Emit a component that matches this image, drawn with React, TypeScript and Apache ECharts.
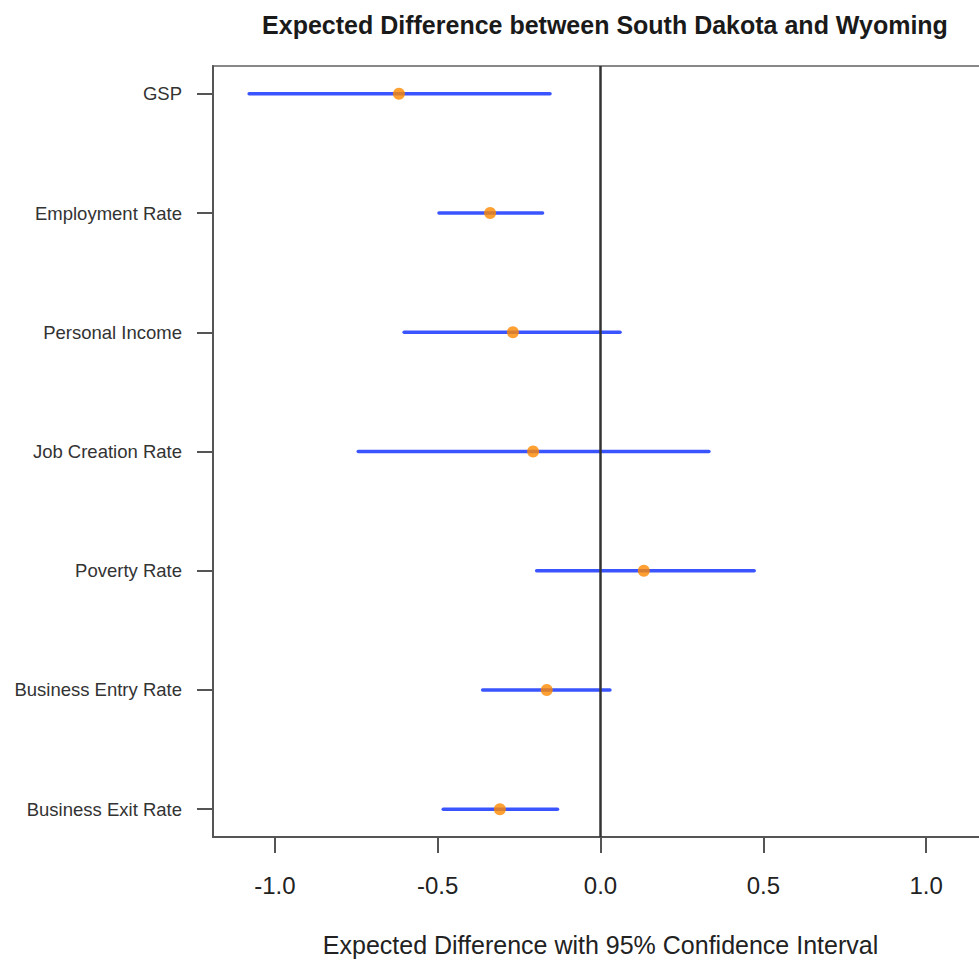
import React, { useEffect, useRef } from "react";
import * as echarts from "echarts";

const categories = [
  "GSP",
  "Employment Rate",
  "Personal Income",
  "Job Creation Rate",
  "Poverty Rate",
  "Business Entry Rate",
  "Business Exit Rate",
];
const estimates = [-0.619, -0.339, -0.269, -0.207, 0.133, -0.165, -0.309];
const lowerCI = [-1.079, -0.496, -0.603, -0.744, -0.196, -0.362, -0.483];
const upperCI = [-0.155, -0.178, 0.060, 0.333, 0.472, 0.029, -0.132];
const xTicks = [-1.0, -0.5, 0.0, 0.5, 1.0];
const yPositions = [1, 2, 3, 4, 5, 6, 7];

const FONT = "'Liberation Sans', Arial, Helvetica, sans-serif";

export default function App() {
  const ref = useRef<HTMLDivElement>(null);
  useEffect(() => {
    if (!ref.current) return;
    const chart = echarts.init(ref.current, undefined, { renderer: "svg" });
    const ciData = categories.map((_, i) => [lowerCI[i], upperCI[i], yPositions[i]]);
    const ptData = categories.map((_, i) => [estimates[i], yPositions[i]]);
    chart.setOption({
      animation: false,
      backgroundColor: "#ffffff",
      title: {
        text: "Expected Difference between South Dakota and Wyoming",
        left: 600,
        textAlign: "center",
        top: 7,
        textStyle: { fontFamily: FONT, fontSize: 25, fontWeight: "bold", color: "#1a1a1a" },
      },
      grid: {
        left: 213,
        top: 66,
        width: 775,
        height: 771,
        show: true,
        borderColor: "#888",
        borderWidth: 2,
        backgroundColor: "transparent",
        containLabel: false,
        outerBoundsMode: "none",
      },
      xAxis: {
        type: "value",
        min: -1.19,
        max: 1.19,
        splitLine: { show: false },
        axisLine: { show: true, onZero: false, lineStyle: { color: "#555", width: 2 } },
        axisTick: {
          show: true,
          length: 16,
          customValues: xTicks,
          lineStyle: { color: "#555", width: 2 },
        },
        axisLabel: {
          customValues: xTicks,
          margin: 36,
          fontFamily: FONT,
          fontSize: 24,
          color: "#222",
          formatter: (v: number) => v.toFixed(1),
        },
        name: "Expected Difference with 95% Confidence Interval",
        nameLocation: "middle",
        nameGap: 95,
        nameTextStyle: { fontFamily: FONT, fontSize: 25, color: "#222" },
      },
      yAxis: {
        type: "value",
        inverse: true,
        min: 0.767,
        max: 7.233,
        splitLine: { show: false },
        axisLine: { show: true, onZero: false, lineStyle: { color: "#555", width: 2 } },
        axisTick: {
          show: true,
          length: 16,
          customValues: yPositions,
          lineStyle: { color: "#555", width: 2 },
        },
        axisLabel: {
          customValues: yPositions,
          margin: 31,
          fontFamily: FONT,
          fontSize: 18.5,
          color: "#333",
          formatter: (v: number) => categories[Math.round(v) - 1] ?? "",
        },
      },
      series: [
        {
          type: "custom",
          data: ciData,
          encode: { x: [0, 1], y: 2 },
          z: 2,
          renderItem: (params: any, api: any) => {
            const a = api.coord([api.value(0), api.value(2)]);
            const b = api.coord([api.value(1), api.value(2)]);
            return {
              type: "line",
              shape: { x1: a[0], y1: a[1], x2: b[0], y2: b[1] },
              style: { stroke: "#3a55ff", lineWidth: 3.5, lineCap: "round" },
            };
          },
        },
        {
          type: "scatter",
          data: ptData,
          symbol: "circle",
          symbolSize: 12,
          z: 3,
          itemStyle: { color: "#ff8800" },
          markLine: {
            silent: true,
            symbol: ["none", "none"],
            label: { show: false },
            lineStyle: { color: "#333", width: 2.5, type: "solid" },
            data: [{ xAxis: 0 }],
          },
        },
      ],
    });
    return () => chart.dispose();
  }, []);
  return (
    <div
      ref={ref}
      style={{ position: "fixed", left: 0, top: 0, width: 979, height: 960 }}
    />
  );
}
